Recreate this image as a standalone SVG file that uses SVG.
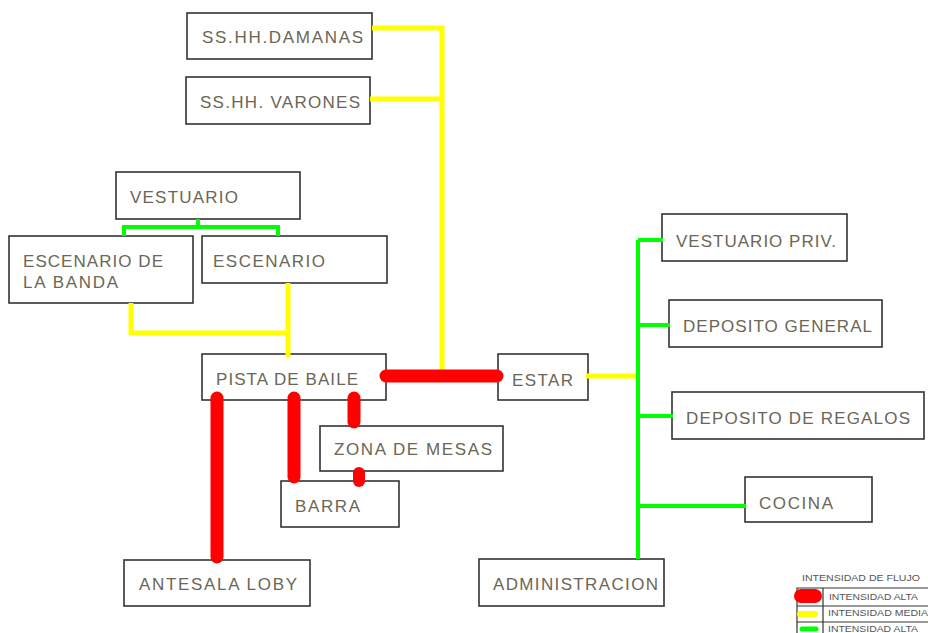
<svg xmlns="http://www.w3.org/2000/svg" width="928" height="633" viewBox="0 0 928 633">
<style>
.box{fill:#fff;stroke:#333;stroke-width:1.6}
.t{font-family:"Liberation Sans",Arial,sans-serif;font-size:17px;fill:#6b6656}
.lt{font-family:"Liberation Sans",Arial,sans-serif;font-size:9px;fill:#555}
.r{stroke:#ff0000;stroke-width:13;stroke-linecap:round;fill:none}
.y{stroke:#ffff00;stroke-width:5;fill:none}
.g{stroke:#00ff00;stroke-width:4;fill:none}
.tab{stroke:#333;stroke-width:1.2;fill:none}
</style>
<rect width="928" height="633" fill="#fff"/>
<g id="damanas"><rect class="box" x="187" y="13" width="185" height="46"/><text class="t" x="202" y="43" textLength="161" lengthAdjust="spacing">SS.HH.DAMANAS</text></g>
<g id="varones"><rect class="box" x="186" y="77" width="184" height="47"/><text class="t" x="200" y="108" textLength="160" lengthAdjust="spacing">SS.HH. VARONES</text></g>
<g id="vestuario"><rect class="box" x="116" y="172" width="184" height="47"/><text class="t" x="130" y="203" textLength="108" lengthAdjust="spacing">VESTUARIO</text></g>
<g id="escenario-banda"><rect class="box" x="9" y="236" width="184" height="67"/><text class="t" x="23" y="267" textLength="140" lengthAdjust="spacing">ESCENARIO DE</text><text class="t" x="23" y="288" textLength="95" lengthAdjust="spacing">LA BANDA</text></g>
<g id="escenario"><rect class="box" x="202" y="236" width="185" height="47"/><text class="t" x="213" y="267" textLength="112" lengthAdjust="spacing">ESCENARIO</text></g>
<g id="pista"><rect class="box" x="202" y="354" width="184" height="46"/><text class="t" x="216" y="385" textLength="142" lengthAdjust="spacing">PISTA DE BAILE</text></g>
<g id="estar"><rect class="box" x="498" y="354" width="90" height="46"/><text class="t" x="512" y="386" textLength="61" lengthAdjust="spacing">ESTAR</text></g>
<g id="zona-mesas"><rect class="box" x="320" y="426" width="183" height="45"/><text class="t" x="334" y="455" textLength="158" lengthAdjust="spacing">ZONA DE MESAS</text></g>
<g id="barra"><rect class="box" x="281" y="481" width="118" height="46"/><text class="t" x="295" y="512" textLength="65" lengthAdjust="spacing">BARRA</text></g>
<g id="antesala"><rect class="box" x="124" y="560" width="186" height="46"/><text class="t" x="139" y="590" textLength="158" lengthAdjust="spacing">ANTESALA LOBY</text></g>
<g id="vestuario-priv"><rect class="box" x="662" y="214" width="185" height="47"/><text class="t" x="676" y="247" textLength="160" lengthAdjust="spacing">VESTUARIO PRIV.</text></g>
<g id="deposito-general"><rect class="box" x="669" y="300" width="213" height="47"/><text class="t" x="683" y="332" textLength="189" lengthAdjust="spacing">DEPOSITO GENERAL</text></g>
<g id="deposito-regalos"><rect class="box" x="672" y="392" width="252" height="47"/><text class="t" x="686" y="424" textLength="224" lengthAdjust="spacing">DEPOSITO DE REGALOS</text></g>
<g id="cocina"><rect class="box" x="745" y="477" width="127" height="45"/><text class="t" x="759" y="509" textLength="74" lengthAdjust="spacing">COCINA</text></g>
<g id="administracion"><rect class="box" x="479" y="559" width="185" height="47"/><text class="t" x="493" y="590" textLength="165" lengthAdjust="spacing">ADMINISTRACION</text></g>
<g id="connectors">
<polyline class="y" points="372,28 442,28 442,378"/>
<line class="y" x1="370" y1="99" x2="442" y2="99"/>
<line class="y" x1="288" y1="283" x2="288" y2="357"/>
<polyline class="y" points="131,303 131,333 288,333"/>
<line class="y" x1="586" y1="376" x2="640" y2="376"/>
<polyline class="g" points="198,219 198,227"/>
<polyline class="g" points="124,236 124,227 278,227 278,236"/>
<line class="g" x1="638" y1="240" x2="638" y2="559"/>
<line class="g" x1="638" y1="240" x2="663" y2="240"/>
<line class="g" x1="638" y1="325" x2="670" y2="325"/>
<line class="g" x1="638" y1="416" x2="673" y2="416"/>
<line class="g" x1="638" y1="506" x2="746" y2="506"/>
<line class="r" x1="386" y1="376" x2="497" y2="376"/>
<line class="r" x1="217" y1="398" x2="217" y2="557"/>
<line class="r" x1="294" y1="398" x2="294" y2="477"/>
<line class="r" x1="354" y1="398" x2="354" y2="422"/>
<line class="r" x1="359" y1="473" x2="359" y2="481" style="stroke-width:12"/>
</g>
<g id="legend">
<text class="lt" x="802" y="581" textLength="118" lengthAdjust="spacingAndGlyphs">INTENSIDAD DE FLUJO</text>
<polyline class="tab" points="797,633 797,588 928,588"/>
<line class="tab" x1="797" y1="606" x2="928" y2="606"/>
<line class="tab" x1="797" y1="622" x2="928" y2="622"/>
<line class="tab" x1="823" y1="588" x2="823" y2="633"/>
<line x1="801" y1="596" x2="815" y2="596" stroke="#ff0000" stroke-width="14" stroke-linecap="round"/>
<line x1="800" y1="614" x2="815" y2="614" stroke="#ffff00" stroke-width="6" stroke-linecap="round"/>
<line x1="802" y1="629" x2="816" y2="629" stroke="#00ff00" stroke-width="5" stroke-linecap="round"/>
<text class="lt" x="829" y="600" textLength="89" lengthAdjust="spacingAndGlyphs">INTENSIDAD ALTA</text>
<text class="lt" x="828" y="616" textLength="100" lengthAdjust="spacingAndGlyphs">INTENSIDAD MEDIA</text>
<text class="lt" x="828" y="632" textLength="90" lengthAdjust="spacingAndGlyphs">INTENSIDAD ALTA</text>
</g>
</svg>
